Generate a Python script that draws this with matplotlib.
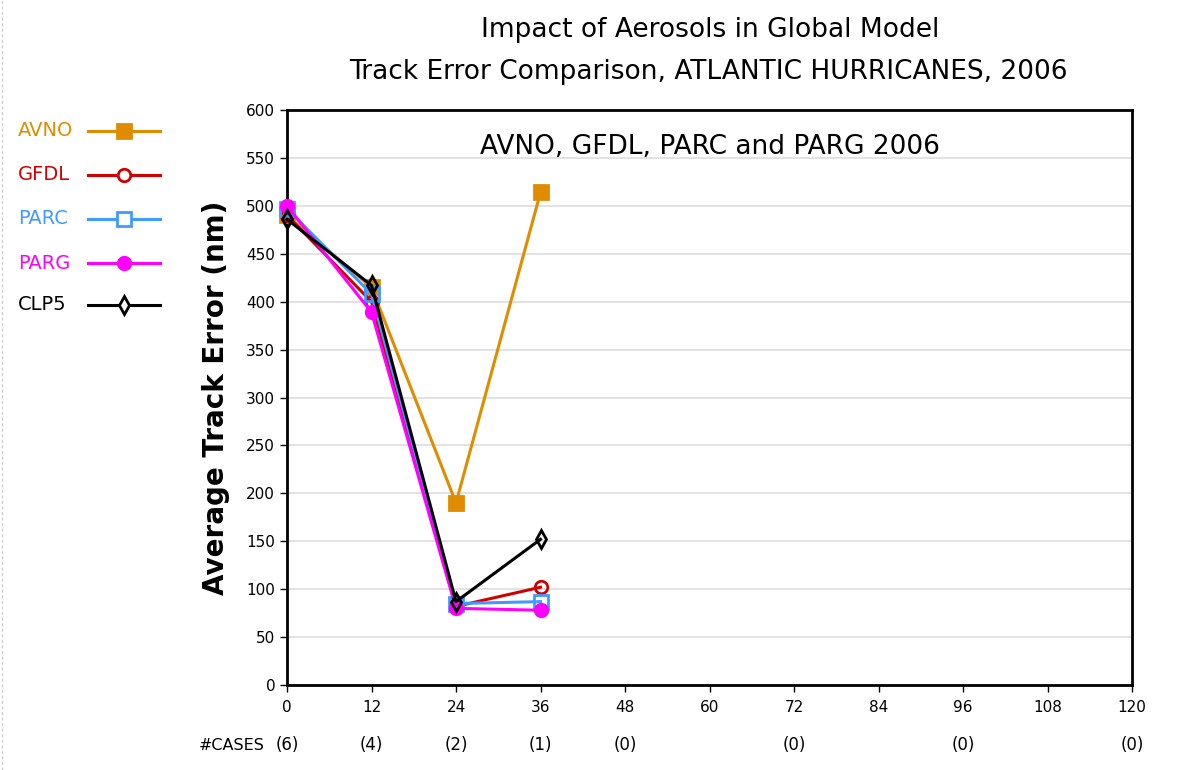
import matplotlib
matplotlib.use("Agg")
import matplotlib.pyplot as plt
from matplotlib.lines import Line2D

hours = [0, 12, 24, 36]
avno = [490, 415, 190, 514]
gfdl = [490, 400, 82, 102]
parc = [497, 408, 85, 87]
parg = [500, 389, 80, 78]
clp5 = [486, 417, 87, 152]

series_names = ["AVNO", "GFDL", "PARC", "PARG", "CLP5"]
series_vals = [avno, gfdl, parc, parg, clp5]
colors = ["#E08C00", "#D00000", "#3F9BFF", "#FF00FF", "#000000"]
markers = ["s", "o", "s", "o", "d"]
fills = ["full", "none", "none", "full", "none"]

xticks = [0, 12, 24, 36, 48, 60, 72, 84, 96, 108, 120]
yticks = list(range(0, 601, 50))
case_hours = [0, 12, 24, 36, 48, 72, 96, 120]
case_counts = ["(6)", "(4)", "(2)", "(1)", "(0)", "(0)", "(0)", "(0)"]

plt.rcParams['font.family'] = ['DejaVu Sans']
fig = plt.figure(figsize=(11.89, 7.70), dpi=100)
ax = fig.add_axes([287/1189, 1-685/770, (1132-287)/1189, (685-110)/770])

for name, vals, c, m, f in zip(series_names, series_vals, colors, markers, fills):
    ms = 10 if m == "s" else 9
    ax.plot(hours, vals, color=c, lw=2.2, marker=m, markersize=ms,
            fillstyle=f, markeredgewidth=2, markerfacecolor=(c if f == "full" else "white"),
            zorder=3, clip_on=False)

ax.set_xlim(0, 120)
ax.set_ylim(0, 600)
ax.set_xticks(xticks)
ax.set_yticks(yticks)
ax.tick_params(axis='both', labelsize=11, length=5, width=1, direction='out')
ax.tick_params(axis='x', pad=6)
ax.grid(axis='y', color='#DDDDDD', lw=1.2)
ax.set_axisbelow(True)
for s in ax.spines.values():
    s.set_linewidth(2)

ax.set_ylabel("Average Track Error (nm)", fontsize=20, labelpad=12, fontweight='semibold')
ax.text(0.5, 0.935, "AVNO, GFDL, PARC and PARG 2006", transform=ax.transAxes,
        ha='center', va='center', fontsize=19)

fig.text(710/1189, 1-30/770, "Impact of Aerosols in Global Model", ha='center', va='center', fontsize=19)
fig.text(708/1189, 1-72/770, "Track Error Comparison, ATLANTIC HURRICANES, 2006", ha='center', va='center', fontsize=19)

# cases row
ypos = 1 - 745/770
fig.text(232/1189, ypos, "#CASES", ha='center', va='center', fontsize=11.5)
for h, c in zip(case_hours, case_counts):
    xf = (287 + (1132-287) * h / 120) / 1189
    fig.text(xf, ypos, c, ha='center', va='center', fontsize=12)

# legend at left
leg_y = [131, 175, 219, 263, 305]
for name, c, m, f, yy in zip(series_names, colors, markers, fills, leg_y):
    yf = 1 - yy/770
    fig.text(18/1189, yf, name, ha='left', va='center', fontsize=14, color=c)
    fig.add_artist(Line2D([88/1189, 160/1189], [yf, yf], color=c, lw=2.2,
                          transform=fig.transFigure))
    ms = 10 if m == "s" else 9
    fig.add_artist(Line2D([124/1189], [yf], color=c, marker=m, markersize=ms,
                          markeredgewidth=2, markerfacecolor=(c if f == "full" else "white"),
                          transform=fig.transFigure))

# left dotted border artifact
fig.add_artist(Line2D([2/1189, 2/1189], [0, 1], color='#CCCCCC', lw=1, ls=(0, (2, 2)),
                      transform=fig.transFigure))

fig.savefig("out.png", dpi=100)
